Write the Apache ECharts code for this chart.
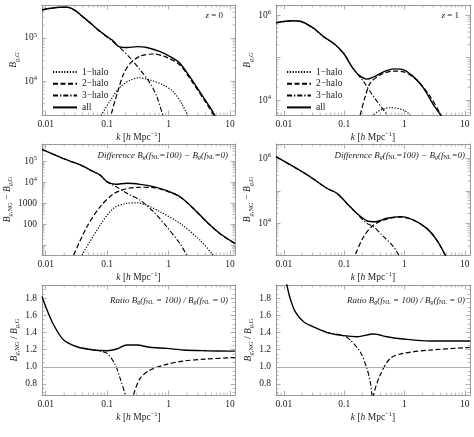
<!DOCTYPE html>
<html><head><meta charset="utf-8">
<script src="https://cdn.jsdelivr.net/npm/echarts@6/dist/echarts.min.js"></script>
<style>html,body{margin:0;padding:0;background:#fff}#c{width:474px;height:437px}</style>
</head><body><div id="c"></div>
<script>
// ---------------- DATA ----------------
// Panel 1: z = 0, B_g,G
const z0_all_k  = [0.0087,0.012,0.0167,0.0228,0.03,0.0374,0.0542,0.0695,0.0785,0.1007,0.121,0.155,0.212,0.307,0.445,0.73,1.06,1.53,2.22,3.22,4.67,5.83,7];
const z0_all_B  = [4.5e5,4.9e5,5.2e5,5.2e5,4.4e5,3.4e5,2.2e5,1.59e5,1.4e5,1.07e5,9e4,6.3e4,6e4,6.3e4,6e4,4.8e4,3.7e4,2.6e4,1.26e4,5640,2530,1480,900];
const z0_h3_k   = [0.0087,0.012,0.0167,0.0228,0.03,0.0374,0.0542,0.0695,0.0785,0.1007,0.121,0.165,0.239,0.347,0.504,0.646,0.825,1.0];
const z0_h3_B   = [4.45e5,4.85e5,5.15e5,5.15e5,4.35e5,3.35e5,2.17e5,1.56e5,1.37e5,1.04e5,8.5e4,5.8e4,3.4e4,1.8e4,8840,4310,1480,700];
const z0_h2_k   = [0.105,0.114,0.146,0.187,0.239,0.347,0.569,0.935,1.53,2.51,4.13,5.6,7];
const z0_h2_B   = [800,1480,5180,1.5e4,2.6e4,3.8e4,4.25e4,3.55e4,2.35e4,8840,3040,1480,800];
const z0_h1_k   = [0.07,0.0785,0.114,0.165,0.239,0.326,0.504,0.825,1.19,1.63,2.09,2.5];
const z0_h1_B   = [900,1480,3610,7360,1.05e4,1.19e4,1.05e4,8070,5640,3020,1480,800];
// Panel 2: z = 1, B_g,G
const z1_all_k  = [0.0074,0.0136,0.0199,0.031,0.0455,0.0667,0.0977,0.134,0.173,0.238,0.307,0.45,0.66,0.966,1.42,2.07,3.04,4.17,5.5];
const z1_all_B  = [6.6e5,7.35e5,6.95e5,4.9e5,3.1e5,2.16e5,1.26e5,6.1e4,3.9e4,3.1e4,3.5e4,4.6e4,5.4e4,5.1e4,3.5e4,1.9e4,7600,4000,2000];
const z1_h3_k   = [0.0074,0.0136,0.0199,0.031,0.0455,0.0667,0.0977,0.134,0.21,0.307,0.45,0.545,0.65];
const z1_h3_B   = [6.5e5,7.25e5,6.85e5,4.85e5,3.05e5,2.13e5,1.24e5,6.0e4,2.7e4,1.2e4,5800,4000,2500];
const z1_h2_k   = [0.17,0.184,0.223,0.27,0.395,0.66,0.966,1.61,2.67,4.02,5];
const z1_h2_B   = [3000,4440,1.2e4,2.5e4,3.9e4,4.8e4,4.6e4,2.95e4,1.2e4,4440,2200];
const z1_h1_k   = [0.28,0.307,0.4,0.58,0.966,1.24,1.5];
const z1_h1_B   = [3500,4440,5800,6600,5800,4440,3300];
// Panel 3: z = 0, difference
const d0_all_k  = [0.0087,0.0222,0.0366,0.0601,0.0772,0.0993,0.136,0.21,0.345,0.567,0.935,1.54,2.53,4.17,6.86,12.1];
const d0_all_B  = [3.7e5,1.15e5,6.7e4,3.2e4,2.2e4,1.07e4,8000,9000,8000,6200,4000,2060,580,133,37,12.4];
const d0_h3_k   = [0.0087,0.0222,0.0366,0.0601,0.0772,0.0993,0.136,0.21,0.345,0.567,0.935,1.54,1.97,2.5];
const d0_h3_B   = [3.65e5,1.13e5,6.6e4,3.15e4,2.15e4,1.04e4,6500,3000,1400,400,77,12,3.5,1];
const d0_h2_k   = [0.0285,0.047,0.0772,0.127,0.21,0.345,0.567,0.935,1.54,2.53,4.17,6.86,12.1];
const d0_h2_B   = [3.5,77,690,2800,5000,5800,5600,3800,2000,570,130,36,12];
const d0_h1_k   = [0.039,0.0772,0.127,0.21,0.305,0.45,0.728,1.54,3.24,5.33];
const d0_h1_B   = [3.5,93,580,1000,1050,800,400,111,18,3.5];
// Panel 4: z = 1, difference
const d1_all_k  = [0.0074,0.0145,0.0273,0.0516,0.0757,0.111,0.163,0.238,0.327,0.51,0.85,1.42,2.35,3.44,4.73,6];
const d1_all_B  = [1.12e6,5.5e5,2.7e5,1.2e5,8.4e4,4.1e4,2e4,1.2e4,1.12e4,1.43e4,1.6e4,1.26e4,7000,3060,1060,400];
const d1_h3_k   = [0.0074,0.0145,0.0273,0.0516,0.0757,0.111,0.163,0.238,0.307,0.45,0.66,0.8,1.0];
const d1_h3_B   = [1.11e6,5.45e5,2.67e5,1.19e5,8.3e4,4.05e4,1.95e4,1.0e4,7850,3870,1900,1060,500];
const d1_h2_k   = [0.14,0.152,0.21,0.307,0.51,0.85,1.42,2.35,3.44,4.73,6];
const d1_h2_B   = [700,1060,3870,8870,1.35e4,1.55e4,1.24e4,6900,3000,1050,400];
// Panel 5: z = 0, ratio
const r0_all_k  = [0.0087,0.0105,0.0135,0.0196,0.0323,0.0603,0.0993,0.144,0.21,0.305,0.5,0.935,1.74,4.17,10,12.1];
const r0_all_R  = [1.82,1.663,1.488,1.312,1.234,1.195,1.187,1.207,1.254,1.254,1.227,1.215,1.195,1.187,1.183,1.182];
const r0_h3_k   = [0.04,0.0603,0.0993,0.136,0.163,0.197,0.21];
const r0_h3_R   = [1.22,1.195,1.157,1.02,0.864,0.67,0.55];
const r0_h2_k   = [0.25,0.269,0.345,0.5,0.935,1.74,4.17,10,12.1];
const r0_h2_R   = [0.5,0.67,0.864,0.961,1.028,1.067,1.09,1.105,1.108];
// Panel 6: z = 1, ratio
const r1_all_k  = [0.0074,0.0095,0.0112,0.0127,0.0154,0.0212,0.0352,0.0586,0.0977,0.163,0.307,0.51,0.966,2.67,9.55,12.2];
const r1_all_R  = [2.6,2.2,1.955,1.8,1.643,1.526,1.449,1.39,1.363,1.351,1.382,1.351,1.324,1.3,1.3,1.3];
const r1_h3_k   = [0.05,0.0977,0.126,0.184,0.238,0.27,0.288,0.3];
const r1_h3_R   = [1.4,1.363,1.312,1.175,0.98,0.825,0.669,0.55];
const r1_h2_k   = [0.3,0.307,0.395,0.58,0.966,2.67,9.55,12.2];
const r1_h2_R   = [0.55,0.669,0.903,1.098,1.157,1.195,1.222,1.225];
// Axis ranges and tick labels
const xRangeLeft  = [0.0087, 12.1];
const xRangeRight = [0.0074, 12.2];
const xTickLabels = {'-2':'0.01','-1':'0.1','0':'1','1':'10'};
const yRanges = [[1620,5.85e5],[4440,1.72e6],[3.5,6.6e5],[1060,2.75e6],[0.67,1.955],[0.67,1.955]];
const yLogLabels = [
  {4:'{b|10}{s|4}',5:'{b|10}{s|5}'},
  {4:'{b|10}{s|4}',6:'{b|10}{s|6}'},
  {2:'100',3:'1000',4:'{b|10}{s|4}',5:'{b|10}{s|5}'},
  {4:'{b|10}{s|4}',6:'{b|10}{s|6}'}
];
const minorMultipliers = [2,3,4,5,6,7,8,9];
const minorDecades = [-3,-2,-1,0,1,2,3,4,5,6];
const legendNames = ['1\u2212halo','2\u2212halo','3\u2212halo','all'];

// ---------------- LAYOUT / STYLE ----------------
const FONT = 'Liberation Serif';
const FRAME = '#9a9a9a';
const grids = [
  {left:42, top:5,   width:193, height:110},
  {left:276,top:5,   width:194, height:110},
  {left:42, top:144, width:193, height:111},
  {left:276,top:144, width:194, height:111},
  {left:42, top:285, width:193, height:110},
  {left:276,top:285, width:194, height:110}
];
const yNameGap = [15,9,16,9,16,14];
const richBase = {
  b:{fontFamily:FONT,fontSize:9.5,color:'#222',lineHeight:13},
  s:{fontFamily:FONT,fontSize:6.5,color:'#222',verticalAlign:'top',lineHeight:8},
  i:{fontFamily:FONT,fontSize:9.5,fontStyle:'italic',color:'#222',lineHeight:13},
  n:{fontFamily:FONT,fontSize:9.5,color:'#222',lineHeight:13},
  sub:{fontFamily:FONT,fontSize:6.5,fontStyle:'italic',color:'#222',verticalAlign:'bottom',lineHeight:9},
  subn:{fontFamily:FONT,fontSize:6.5,color:'#222',verticalAlign:'bottom',lineHeight:9}
};
const yNames = [
  '{i|B}{sub|g,G}','{i|B}{sub|g,G}',
  '{i|B}{sub|g}{subn|,NG}{n| \u2212 }{i|B}{sub|g}{subn|,G}','{i|B}{sub|g}{subn|,NG}{n| \u2212 }{i|B}{sub|g}{subn|,G}',
  '{i|B}{sub|g}{subn|,NG}{n| / }{i|B}{sub|g}{subn|,G}','{i|B}{sub|g}{subn|,NG}{n| / }{i|B}{sub|g}{subn|,G}'
];
const xName = '{i|k}{n| [}{i|h}{n| Mpc}{s|\u22121}{n|]}';

const zip = (a,b)=>a.map((v,i)=>[v,b[i]]);
const styles = {
  'all':        {color:'#000',width:1.4,type:'solid'},
  '1\u2212halo':{color:'#000',width:1.2,type:[1.2,1.6]},
  '2\u2212halo':{color:'#000',width:1.2,type:[5,2.5]},
  '3\u2212halo':{color:'#000',width:1.1,type:[5,2,1.3,2]}
};
const minorValues = [];
minorDecades.forEach(d=>minorMultipliers.forEach(m=>minorValues.push(m*Math.pow(10,d))));

const xAxes=[], yAxes=[], series=[];
grids.forEach((g,i)=>{
  const xr = (i%2===0)?xRangeLeft:xRangeRight;
  const isLogY = i<4;
  const xLabelFmt = v=>{const l=Math.log10(v);const r=Math.round(l);return Math.abs(l-r)<1e-6 && xTickLabels[r]!==undefined ? xTickLabels[r] : '';};
  const tick = {show:true,inside:true,length:4.5,lineStyle:{color:FRAME,width:0.8}};
  const line = {show:true,lineStyle:{color:FRAME,width:1}};
  xAxes.push({gridIndex:i,type:'log',logBase:10,min:xr[0],max:xr[1],position:'bottom',
    axisLine:line,axisTick:tick,splitLine:{show:false},
    axisLabel:{formatter:xLabelFmt,fontFamily:FONT,fontSize:9.5,color:'#222',margin:4},
    name:xName,nameLocation:'middle',nameGap:16,nameTextStyle:{rich:richBase}});
  xAxes.push({gridIndex:i,type:'log',logBase:10,min:xr[0],max:xr[1],position:'top',
    axisLine:line,axisTick:tick,splitLine:{show:false},axisLabel:{show:false}});
  const yr = yRanges[i];
  let yl;
  if(isLogY){
    const map=yLogLabels[i];
    yl={formatter:v=>{const l=Math.log10(v);const r=Math.round(l);return Math.abs(l-r)<1e-6 && map[r]!==undefined ? map[r] : '';},
        fontFamily:FONT,fontSize:9.5,color:'#222',margin:5,rich:richBase};
  } else {
    yl={formatter:v=>{const r=Math.round(v*5)/5;return Math.abs(v-r)<1e-6 ? r.toFixed(1) : '';},
        fontFamily:FONT,fontSize:9.5,color:'#222',margin:5};
  }
  const minor = isLogY ? {show:false} : {show:true,splitNumber:4,length:2.5,lineStyle:{color:FRAME,width:0.7}};
  const yBase = isLogY ? {type:'log',logBase:10} : {type:'value',splitNumber:6};
  yAxes.push(Object.assign({gridIndex:i,min:yr[0],max:yr[1],position:'left',
    axisLine:line,axisTick:tick,minorTick:minor,splitLine:{show:false},axisLabel:yl,
    name:yNames[i],nameLocation:'middle',nameRotate:90,nameGap:yNameGap[i],nameTextStyle:{rich:richBase}},yBase));
  yAxes.push(Object.assign({gridIndex:i,min:yr[0],max:yr[1],position:'right',
    axisLine:line,axisTick:tick,minorTick:minor,splitLine:{show:false},axisLabel:{show:false}},yBase));

  // minor log ticks on x (top & bottom), drawn through the axis scale
  const xm = minorValues.filter(v=>v>xr[0]&&v<xr[1]);
  series.push({type:'custom',xAxisIndex:i*2,yAxisIndex:i*2,silent:true,z:1,clip:false,
    data:xm.map(v=>[v,yr[0]]),
    renderItem:(params,api)=>{
      const cs=params.coordSys; const x=api.coord([api.value(0),api.value(1)])[0];
      const st={stroke:FRAME,lineWidth:0.7};
      return {type:'group',children:[
        {type:'line',shape:{x1:x,y1:cs.y+cs.height,x2:x,y2:cs.y+cs.height-2.5},style:st},
        {type:'line',shape:{x1:x,y1:cs.y,x2:x,y2:cs.y+2.5},style:st}]};
    }});
  if(isLogY){
    const ym = minorValues.filter(v=>v>yr[0]&&v<yr[1]);
    series.push({type:'custom',xAxisIndex:i*2,yAxisIndex:i*2,silent:true,z:1,clip:false,
      data:ym.map(v=>[xr[0],v]),
      renderItem:(params,api)=>{
        const cs=params.coordSys; const y=api.coord([api.value(0),api.value(1)])[1];
        const st={stroke:FRAME,lineWidth:0.7};
        return {type:'group',children:[
          {type:'line',shape:{x1:cs.x,y1:y,x2:cs.x+2.5,y2:y},style:st},
          {type:'line',shape:{x1:cs.x+cs.width,y1:y,x2:cs.x+cs.width-2.5,y2:y},style:st}]};
      }});
  }
});

function addSeries(panel,name,k,v,extra){
  const st=styles[name];
  series.push(Object.assign({type:'line',name:name,xAxisIndex:panel*2,yAxisIndex:panel*2,
    data:zip(k,v),symbol:'none',showSymbol:false,smooth:0.3,clip:true,silent:true,
    lineStyle:{color:st.color,width:st.width,type:st.type},itemStyle:{color:'#000',opacity:0},z:name==='all'?5:3},extra||{}));
}
addSeries(0,'1\u2212halo',z0_h1_k,z0_h1_B);
addSeries(0,'2\u2212halo',z0_h2_k,z0_h2_B);
addSeries(0,'3\u2212halo',z0_h3_k,z0_h3_B);
addSeries(0,'all',z0_all_k,z0_all_B);
addSeries(1,'1\u2212halo',z1_h1_k,z1_h1_B);
addSeries(1,'2\u2212halo',z1_h2_k,z1_h2_B);
addSeries(1,'3\u2212halo',z1_h3_k,z1_h3_B);
addSeries(1,'all',z1_all_k,z1_all_B);
addSeries(2,'1\u2212halo',d0_h1_k,d0_h1_B);
addSeries(2,'2\u2212halo',d0_h2_k,d0_h2_B);
addSeries(2,'3\u2212halo',d0_h3_k,d0_h3_B);
addSeries(2,'all',d0_all_k,d0_all_B);
addSeries(3,'2\u2212halo',d1_h2_k,d1_h2_B);
addSeries(3,'3\u2212halo',d1_h3_k,d1_h3_B);
addSeries(3,'all',d1_all_k,d1_all_B);
const unityLine = {markLine:{silent:true,symbol:'none',label:{show:false},animation:false,
  lineStyle:{color:'#b0b0b0',type:'solid',width:1},data:[{yAxis:1}]}};
addSeries(4,'3\u2212halo',r0_h3_k,r0_h3_R);
addSeries(4,'2\u2212halo',r0_h2_k,r0_h2_R);
addSeries(4,'all',r0_all_k,r0_all_R,unityLine);
addSeries(5,'3\u2212halo',r1_h3_k,r1_h3_R);
addSeries(5,'2\u2212halo',r1_h2_k,r1_h2_R);
addSeries(5,'all',r1_all_k,r1_all_R,unityLine);

const legendCommon = {orient:'vertical',itemWidth:24,itemHeight:10,itemGap:1.8,data:legendNames,
  selectedMode:false,itemStyle:{opacity:0,borderWidth:0},
  textStyle:{fontFamily:FONT,fontSize:9.5,color:'#222'},padding:0};
const annRich = {
  i:{fontFamily:FONT,fontSize:9,fontStyle:'italic',fill:'#222'},
  n:{fontFamily:FONT,fontSize:9,fill:'#222'},
  sub:{fontFamily:FONT,fontSize:6,fontStyle:'italic',fill:'#222',verticalAlign:'bottom',lineHeight:9},
  subn:{fontFamily:FONT,fontSize:6,fill:'#222',verticalAlign:'bottom',lineHeight:9}
};
function ann(text,right,top){return {type:'text',right:right,top:top,style:{text:text,rich:annRich,font:'9px '+FONT,fill:'#222'}};}
const diffText = '{i|Difference B}{sub|g}{i|(f}{subn|NL}{i|=100) \u2212 B}{sub|g}{i|(f}{subn|NL}{i|=0)}';
const ratioText = '{i|Ratio B}{sub|g}{i|(f}{subn|NL}{i| = 100) / B}{sub|g}{i|(f}{subn|NL}{i| = 0)}';

const option = {
  animation:false,
  backgroundColor:'#fff',
  grid:grids.map(g=>Object.assign({show:false,containLabel:false},g)),
  xAxis:xAxes, yAxis:yAxes, series:series,
  legend:[Object.assign({left:52,top:67},legendCommon),Object.assign({left:286,top:67},legendCommon)],
  graphic:[
    ann('{i|z}{n| = 0}',251,11),
    ann('{i|z}{n| = 1}',15,11),
    ann(diffText,246,151),
    ann(diffText,9,151),
    ann(ratioText,246,296),
    ann(ratioText,9,296)
  ]
};
const chart = echarts.init(document.getElementById('c'),null,{renderer:'canvas'});
chart.setOption(option);
</script></body></html>
